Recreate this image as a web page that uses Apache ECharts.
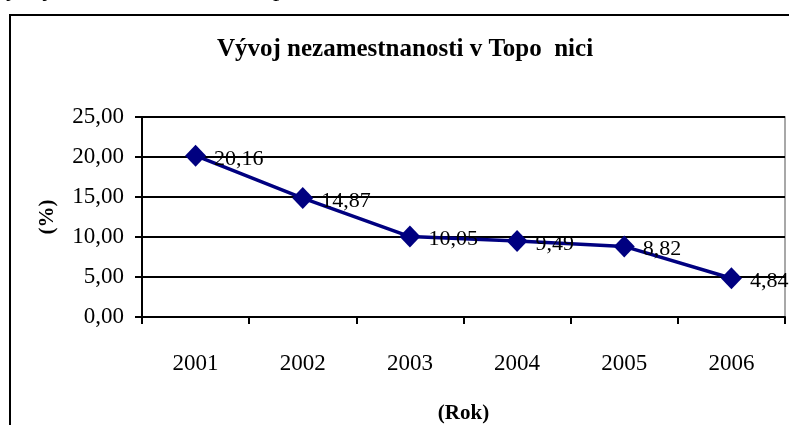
<!DOCTYPE html>
<html>
<head>
<meta charset="utf-8">
<script src="https://cdn.jsdelivr.net/npm/echarts@6/dist/echarts.min.js"></script>
<style>html,body{margin:0;padding:0;background:#fff;}#c{width:789px;height:425px;}</style>
</head>
<body>
<div id="c"></div>
<script>
const categories = ['2001', '2002', '2003', '2004', '2005', '2006'];
const unemployment = [20.16, 14.87, 10.05, 9.49, 8.82, 4.84];
const yTicks = [0, 5, 10, 15, 20, 25];
const titleText = 'Vývoj nezamestnanosti v Topo  nici';
const headingText = 'Vývoj nezamestnanosti v Topoľčanoch';

const serif = '"Liberation Serif", "Times New Roman", serif';
const fmt = v => v.toFixed(2).replace('.', ',');

const chart = echarts.init(document.getElementById('c'), null, {renderer: 'canvas'});
chart.setOption({
  animation: false,
  backgroundColor: '#fff',
  title: {
    text: titleText,
    left: 400, top: 32, textAlign: 'center',
    textStyle: {fontFamily: serif, fontWeight: 'bold', fontSize: 25, color: '#000'}
  },
  graphic: [
    {type: 'rect', shape: {x: 10, y: 15, width: 800, height: 440}, style: {fill: 'none', stroke: '#000', lineWidth: 2}, z: 0, silent: true},
    {type: 'text', left: -12, top: -23, style: {text: headingText, font: '25px ' + serif, fill: '#000'}, silent: true}
  ],
  grid: {left: 142, right: 4, top: 117, bottom: 105, show: true, borderColor: '#8c8c8c', borderWidth: 1.5, backgroundColor: 'transparent'},
  xAxis: {
    type: 'category', data: categories, boundaryGap: true,
    name: '(Rok)', nameLocation: 'middle', nameGap: 86,
    nameTextStyle: {fontFamily: serif, fontWeight: 'bold', fontSize: 21, color: '#000'},
    axisLine: {lineStyle: {color: '#000', width: 2}},
    axisTick: {show: true, length: 7, lineStyle: {color: '#000', width: 2}},
    axisLabel: {fontFamily: serif, fontSize: 23, color: '#000', margin: 35}
  },
  yAxis: {
    type: 'value', min: yTicks[0], max: yTicks[yTicks.length - 1], interval: 5,
    name: '(%)', nameLocation: 'middle', nameGap: 84, nameRotate: 90,
    nameTextStyle: {fontFamily: serif, fontWeight: 'bold', fontSize: 21, color: '#000'},
    axisLine: {show: true, lineStyle: {color: '#000', width: 2}},
    axisTick: {show: true, length: 7, lineStyle: {color: '#000', width: 2}},
    axisLabel: {fontFamily: serif, fontSize: 23, color: '#000', margin: 18, formatter: v => fmt(v)},
    splitLine: {show: true, lineStyle: {color: '#000', width: 2}}
  },
  series: [{
    type: 'line', data: unemployment,
    symbol: 'diamond', symbolSize: [21, 22],
    lineStyle: {color: '#000080', width: 3.5},
    itemStyle: {color: '#000080'},
    label: {
      show: true, position: 'right', distance: 8, offset: [0, 3],
      fontFamily: serif, fontSize: 22, color: '#000',
      formatter: p => fmt(p.value)
    }
  }]
});
</script>
</body>
</html>
